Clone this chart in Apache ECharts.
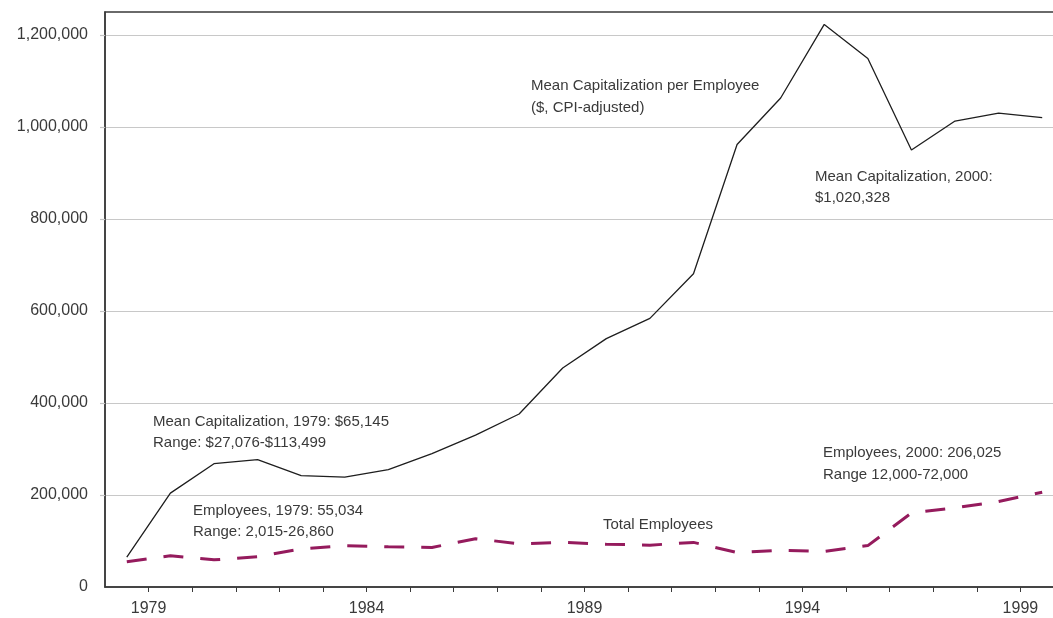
<!DOCTYPE html>
<html>
<head>
<meta charset="utf-8">
<script src="https://cdn.jsdelivr.net/npm/echarts@6/dist/echarts.min.js"></script>
<style>
  html, body { margin: 0; padding: 0; background: #ffffff; }
  #chart { width: 1053px; height: 618px; }
</style>
</head>
<body>
<div id="chart"></div>
<script>
// ---- data ----
const years = [1979, 1980, 1981, 1982, 1983, 1984, 1985, 1986, 1987, 1988, 1989,
               1990, 1991, 1992, 1993, 1994, 1995, 1996, 1997, 1998, 1999, 2000];
const meanCapPerEmployee = [65145, 204000, 268000, 277000, 242000, 239000, 255000, 290000,
                            330000, 376000, 476000, 540000, 584000, 681000, 962000, 1063000,
                            1223000, 1149000, 950000, 1013000, 1030000, 1020328];
const totalEmployees = [55034, 68000, 59000, 66000, 83000, 90000, 87500, 86000, 105000,
                        94000, 97000, 93000, 91000, 97000, 75000, 80000, 77500, 90000,
                        161000, 172000, 186000, 206025];
const labelYears = [1979, 1984, 1989, 1994, 1999];
const yTicks = [0, 200000, 400000, 600000, 800000, 1000000, 1200000];

const annotations = [
  { text: 'Mean Capitalization per Employee\n($, CPI-adjusted)', x: 531, y: 75, lh: 22 },
  { text: 'Mean Capitalization, 1979: $65,145\nRange: $27,076-$113,499', x: 153, y: 411, lh: 21 },
  { text: 'Employees, 1979: 55,034\nRange: 2,015-26,860', x: 193, y: 500, lh: 21 },
  { text: 'Mean Capitalization, 2000:\n$1,020,328', x: 815, y: 166, lh: 21 },
  { text: 'Employees, 2000: 206,025\nRange 12,000-72,000', x: 823, y: 442, lh: 22 },
  { text: 'Total Employees', x: 603, y: 514, lh: 21 }
];

const textColor = '#3a3a3a';
const font = '"Liberation Sans", Arial, sans-serif';

const chart = echarts.init(document.getElementById('chart'), null, { renderer: 'canvas' });

const tickVals = years.slice(0, -1).map(y => y + 0.5);
const labelVals = labelYears.map(y => y + 0.5);

chart.setOption({
  animation: false,
  backgroundColor: '#ffffff',
  textStyle: { fontFamily: font },
  grid: {
    left: 105, top: 12, width: 959, height: 575,
    outerBoundsMode: 'none',
    containLabel: false,
    show: true, borderColor: '#3a3a3a', borderWidth: 1.5, backgroundColor: 'transparent'
  },
  xAxis: {
    type: 'value',
    min: years[0] - 0.5,
    max: years[years.length - 1] + 0.5,
    axisLine: { show: true, onZero: false, lineStyle: { color: '#3a3a3a', width: 1.5 } },
    axisTick: { show: true, length: 5, customValues: tickVals, lineStyle: { color: '#3a3a3a', width: 1 } },
    axisLabel: {
      customValues: labelVals,
      formatter: v => String(Math.round(v - 0.5)),
      margin: 14, fontSize: 16, color: textColor, fontFamily: font
    },
    splitLine: { show: false }
  },
  yAxis: {
    type: 'value',
    min: 0, max: 1250000,
    axisLine: { show: true, lineStyle: { color: '#3a3a3a', width: 1.5 } },
    axisTick: { show: true, length: 5, customValues: yTicks.slice(1), lineStyle: { color: '#c4c4c4', width: 1.2 } },
    axisLabel: {
      customValues: yTicks,
      formatter: v => v.toLocaleString('en-US'),
      margin: 17, fontSize: 16, color: textColor, fontFamily: font
    },
    splitLine: { show: true, lineStyle: { color: '#c8c8c8', width: 1.2 } }
  },
  series: [
    {
      name: 'Mean Capitalization per Employee',
      type: 'line',
      data: years.map((y, i) => [y, meanCapPerEmployee[i]]),
      symbol: 'none',
      lineStyle: { color: '#1e1e1e', width: 1.3 },
      z: 3
    },
    {
      name: 'Total Employees',
      type: 'line',
      data: years.map((y, i) => [y, totalEmployees[i]]),
      symbol: 'none',
      lineStyle: { color: '#951b5d', width: 3, type: [20, 17], cap: 'butt' },
      z: 4
    }
  ],
  graphic: annotations.map(a => ({
    type: 'text',
    left: a.x,
    top: a.y,
    z: 10,
    style: {
      text: a.text,
      fill: textColor,
      font: '15px ' + font,
      lineHeight: a.lh,
      textVerticalAlign: 'top'
    }
  }))
});
</script>
</body>
</html>
